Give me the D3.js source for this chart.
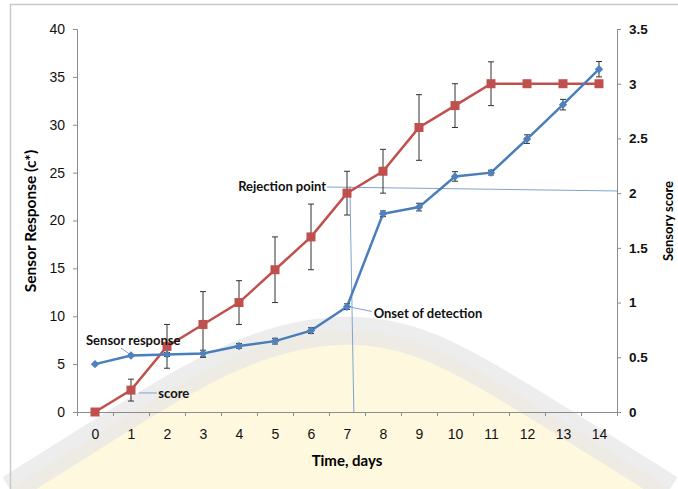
<!DOCTYPE html>
<html>
<head>
<meta charset="utf-8">
<script src="https://cdn.jsdelivr.net/npm/d3@7"></script>
<style>
  body { margin: 0; background: #fff; }
  svg { display: block; font-family: Lato, "Noto Sans", sans-serif; }
</style>
</head>
<body>
<div id="chart"></div>
<script>
// Data
var days = [0, 1, 2, 3, 4, 5, 6, 7, 8, 9, 10, 11, 12, 13, 14];
var sensorResponse = [5.0, 5.9, 6.0, 6.1, 6.9, 7.4, 8.5, 11.0, 20.7, 21.4, 24.6, 25.0, 28.5, 32.1, 35.8];
var sensorErr = [0, 0.1, 0.2, 0.35, 0.25, 0.3, 0.3, 0.3, 0.3, 0.4, 0.5, 0.25, 0.45, 0.55, 0.8];
var sensoryScore = [0, 0.2, 0.6, 0.8, 1.0, 1.3, 1.6, 2.0, 2.2, 2.6, 2.8, 3.0, 3.0, 3.0, 3.0];
var scoreErr = [0, 0.1, 0.2, 0.3, 0.2, 0.3, 0.3, 0.2, 0.2, 0.3, 0.2, 0.2, 0, 0, 0];
var leftTicks = [0, 5, 10, 15, 20, 25, 30, 35, 40];
var rightTicks = [0, 0.5, 1, 1.5, 2, 2.5, 3, 3.5];

var width = 678, height = 489;
var margin = { top: 29, right: 61, bottom: 77, left: 77 };

var svg = d3.select("#chart").append("svg")
  .attr("width", width)
  .attr("height", height);

var x = d3.scaleLinear().domain([-0.5, 14.5]).range([margin.left, width - margin.right]);
var y = d3.scaleLinear().domain([0, 40]).range([height - margin.bottom, margin.top]);
var y2 = d3.scaleLinear().domain([0, 3.5]).range([height - margin.bottom, margin.top]);

var red = "#c0504d", blue = "#4a7ebb", axisColor = "#8c8c8c", leader = "#7fa3d0";

// faint watermark behind the chart (pixel space, it is not data)
var ring = [[10, 489], [80, 445], [175, 385], [260, 342], [350, 325], [430, 342], [515, 392], [600, 445], [670, 489]];
var ringLine = d3.line().curve(d3.curveBasis);
svg.append("path")
  .attr("d", ringLine(ring) + "Z")
  .attr("fill", "#fdf8de");
svg.append("path")
  .attr("d", ringLine(ring))
  .attr("fill", "none")
  .attr("stroke", "#e6e6e6")
  .attr("stroke-width", 28)
  .attr("opacity", 0.7);

// chart frame
svg.append("rect")
  .attr("x", 10.5).attr("y", 4.5)
  .attr("width", 700).attr("height", 600)
  .attr("fill", "none")
  .attr("stroke", "#c9c9c9")
  .attr("stroke-width", 1.5);

// axes
var gLeft = svg.append("g")
  .attr("transform", `translate(${margin.left},0)`)
  .call(d3.axisLeft(y).tickValues(leftTicks).tickSize(4).tickPadding(8));

var gRight = svg.append("g")
  .attr("transform", `translate(${width - margin.right},0)`)
  .call(d3.axisRight(y2).tickValues(rightTicks).tickSize(4).tickPadding(8)
    .tickFormat(function (d) { return String(d); }));

var gBottom = svg.append("g")
  .attr("transform", `translate(0,${height - margin.bottom})`)
  .call(d3.axisBottom(x).tickValues(days).tickSize(0).tickPadding(17)
    .tickFormat(function (d) { return d; }));

svg.append("g")
  .attr("transform", `translate(0,${height - margin.bottom})`)
  .call(d3.axisBottom(x).tickValues(d3.range(-0.5, 15, 1)).tickSize(4).tickFormat(""));

svg.selectAll(".domain").attr("stroke", axisColor).attr("stroke-width", 1);
svg.selectAll(".tick line").attr("stroke", axisColor);
svg.selectAll(".tick text").attr("fill", "#111").style("font-size", "14px");
gRight.selectAll(".tick text").style("font-weight", "bold").style("font-size", "13.5px");

// axis titles
svg.append("text")
  .attr("transform", "translate(31,221) rotate(-90)")
  .attr("text-anchor", "middle")
  .attr("dy", "0.35em")
  .style("font-size", "15.5px").style("font-weight", "bold")
  .text("Sensor Response (c*)");

svg.append("text")
  .attr("transform", "translate(668,221) rotate(-90)")
  .attr("text-anchor", "middle")
  .attr("dy", "0.35em")
  .style("font-size", "13px").style("font-weight", "bold")
  .text("Sensory score");

svg.append("text")
  .attr("x", x(7)).attr("y", 461)
  .attr("text-anchor", "middle")
  .attr("dy", "0.35em")
  .style("font-size", "15px").style("font-weight", "bold")
  .text("Time, days");

// annotation leader lines (in data units)
var annoLines = [
  { axis: "score", pts: [[6.44, 2.056], [14.5, 2.02]] },
  { axis: "score", pts: [[7.08, 2.065], [7.19, 0]] },
  { axis: "sensor", pts: [[7.08, 10.97], [7.69, 10.5]] },
  { axis: "sensor", pts: [[0.72, 6.68], [1.0, 5.95]] },
  { axis: "score", pts: [[1.22, 0.174], [1.72, 0.174]] }
];
svg.append("g").selectAll("line")
  .data(annoLines).enter().append("line")
  .attr("x1", function (d) { return x(d.pts[0][0]); })
  .attr("x2", function (d) { return x(d.pts[1][0]); })
  .attr("y1", function (d) { var s = d.axis === "score" ? y2 : y; return s(d.pts[0][1]); })
  .attr("y2", function (d) { var s = d.axis === "score" ? y2 : y; return s(d.pts[1][1]); })
  .attr("stroke", leader)
  .attr("stroke-width", 1);

// error bars
function errorBars(vals, errs, scale) {
  var g = svg.append("g").attr("stroke", "#333").attr("stroke-width", 1);
  days.forEach(function (d, i) {
    if (!errs[i]) return;
    var cx = x(d), top = scale(vals[i] + errs[i]), bot = scale(vals[i] - errs[i]);
    g.append("line").attr("x1", cx).attr("x2", cx).attr("y1", top).attr("y2", bot);
    g.append("line").attr("x1", cx - 3).attr("x2", cx + 3).attr("y1", top).attr("y2", top);
    g.append("line").attr("x1", cx - 3).attr("x2", cx + 3).attr("y1", bot).attr("y2", bot);
  });
}

// sensory score series (red, right axis)
var scoreLine = d3.line().x(function (d, i) { return x(days[i]); }).y(function (d) { return y2(d); });
svg.append("path")
  .attr("d", scoreLine(sensoryScore))
  .attr("fill", "none").attr("stroke", red).attr("stroke-width", 2.5);
errorBars(sensoryScore, scoreErr, y2);
svg.append("g").selectAll("rect")
  .data(sensoryScore).enter().append("rect")
  .attr("x", function (d, i) { return x(days[i]) - 4.5; })
  .attr("y", function (d) { return y2(d) - 4.5; })
  .attr("width", 9).attr("height", 9)
  .attr("fill", red);

// sensor response series (blue, left axis)
var sensorLine = d3.line().x(function (d, i) { return x(days[i]); }).y(function (d) { return y(d); });
svg.append("path")
  .attr("d", sensorLine(sensorResponse))
  .attr("fill", "none").attr("stroke", blue).attr("stroke-width", 2.5);
errorBars(sensorResponse, sensorErr, y);
svg.append("g").selectAll("path")
  .data(sensorResponse).enter().append("path")
  .attr("d", d3.symbol().type(d3.symbolDiamond2).size(45))
  .attr("transform", function (d, i) { return `translate(${x(days[i])},${y(d)})`; })
  .attr("fill", "#4f81bd");

// annotation texts
var annoTexts = [
  { text: "Rejection point", day: 6.42, axis: "score", v: 2.06, anchor: "end" },
  { text: "Onset of detection", day: 7.74, axis: "sensor", v: 10.34, anchor: "start" },
  { text: "Sensor response", day: -0.25, axis: "sensor", v: 7.52, anchor: "start" },
  { text: "score", day: 1.76, axis: "score", v: 0.174, anchor: "start" }
];
svg.append("g").selectAll("text")
  .data(annoTexts).enter().append("text")
  .attr("x", function (d) { return x(d.day); })
  .attr("y", function (d) { return (d.axis === "score" ? y2 : y)(d.v); })
  .attr("dy", "0.35em")
  .attr("text-anchor", function (d) { return d.anchor; })
  .style("font-size", "13px").style("font-weight", "bold")
  .attr("fill", "#111")
  .text(function (d) { return d.text; });
</script>
</body>
</html>
